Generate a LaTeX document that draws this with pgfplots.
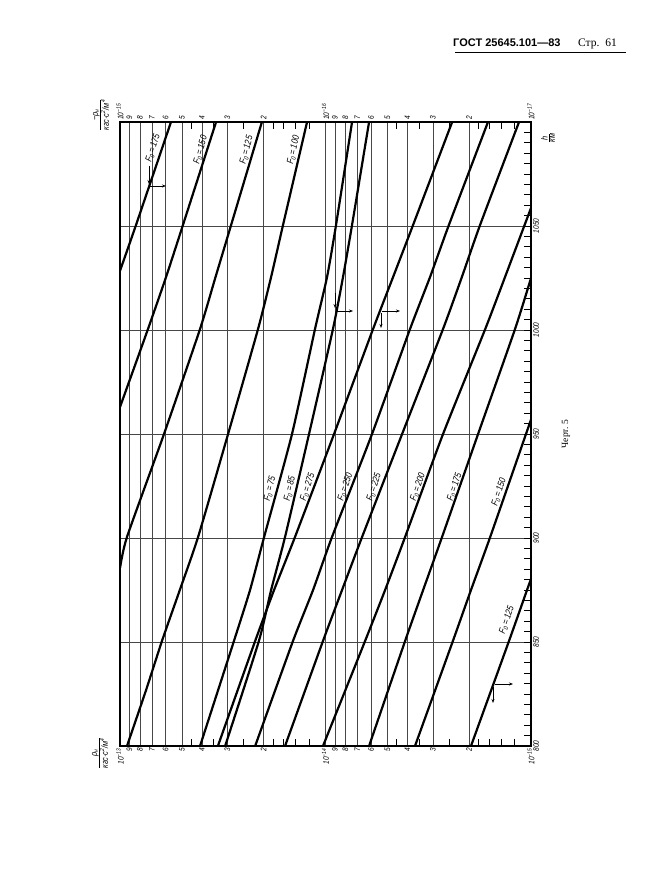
\documentclass[border=0pt]{standalone}
\usepackage{fontspec}
\setmainfont{Liberation Serif}
\newfontfamily\drafting[FakeStretch=0.82]{Liberation Sans}
\newfontfamily\headsans{Liberation Sans}
\usepackage{pgfplots}
\pgfplotsset{compat=1.18}
\usetikzlibrary{arrows.meta}
\newcommand\tf{\drafting\itshape\fontsize{8}{9}\selectfont}
\newcommand\lf{\drafting\itshape\fontsize{9.5}{10}\selectfont}
\newcommand\af{\drafting\itshape\fontsize{9}{10}\selectfont}
\pgfplotsset{fline/.style={black, line width=2.2pt, smooth, tension=0.35, no marks}}
\tikzset{flab/.style={font=\lf, inner sep=0.5pt}}
\begin{document}
\begin{tikzpicture}[x=1pt,y=1pt]
\path[use as bounding box, fill=white] (0,0) rectangle (651,894);
\begin{axis}[
  at={(120pt,148pt)}, anchor=south west, scale only axis,
  width=411pt, height=624pt,
  xmode=log, x dir=reverse, xmin=1e-15, xmax=1e-13, ymin=800, ymax=1100,
  axis line style={line width=1.3pt},
  grid=major, major grid style={line width=0.55pt, black!72},
  tick align=inside, major tick length=0pt, minor tick length=7pt,
  every tick/.style={black, line width=0.7pt},
  xtick={1e-13,9e-14,8e-14,7e-14,6e-14,5e-14,4e-14,3e-14,2e-14,1e-14,9e-15,8e-15,7e-15,6e-15,5e-15,4e-15,3e-15,2e-15,1e-15},
  xticklabels={10\textsuperscript{−13},9,8,7,6,5,4,3,2,10\textsuperscript{−14},9,8,7,6,5,4,3,2,10\textsuperscript{−15}},
  minor xtick={4.5e-14,3.5e-14,2.5e-14,1.8e-14,1.6e-14,1.4e-14,1.2e-14,4.5e-15,3.5e-15,2.5e-15,1.8e-15,1.6e-15,1.4e-15,1.2e-15},
  xtick pos=both, xticklabel pos=left,
  xticklabel style={rotate=90, anchor=east, font=\tf, inner sep=2pt},
  ytick={800,850,900,950,1000,1050},
  yticklabels={800,850,900,950,1000,1050},
  minor ytick={805,810,...,1095},
  ytick pos=right, yticklabel pos=right,
  yticklabel style={rotate=90, anchor=north, font=\tf, inner sep=2pt},
]
% F0=175 (upper left)
\addplot[fline] coordinates {(5.65e-14,1100) (8.36e-14,1050.5) (1.0e-13,1028.5)};
% F0=150
\addplot[fline] coordinates {(3.41e-14,1100) (4.94e-14,1050.5) (5.97e-14,1025.5) (7.31e-14,1000.5) (1.0e-13,963)};
% F0=125
\addplot[fline] coordinates {(2.04e-14,1100) (2.88e-14,1050.5) (3.43e-14,1025.5) (4.08e-14,1000.5) (6.11e-14,950) (9.25e-14,900.5) (1.0e-13,885.6)};
% F0=100
\addplot[fline] coordinates {(1.23e-14,1100) (1.61e-14,1050.5) (1.84e-14,1025.5) (2.13e-14,1000.5) (2.98e-14,950) (4.17e-14,900.5) (5.16e-14,874) (6.25e-14,850.5) (7.47e-14,826.9) (9.25e-14,800)};
% F0=75
\addplot[fline] coordinates {(7.43e-15,1100) (8.89e-15,1050.5) (9.83e-15,1025.5) (1.125e-14,1000.5) (1.456e-14,950) (1.99e-14,900.5) (2.33e-14,875) (2.79e-14,850.5) (4.08e-14,800)};
% F0=85
\addplot[fline] coordinates {(6.14e-15,1100) (7.43e-15,1050.5) (8.22e-15,1025.5) (9.20e-15,1000.5) (1.203e-14,950) (1.574e-14,900.5) (1.84e-14,875) (2.11e-14,850.5) (3.08e-14,800)};
% F0=275
\addplot[fline] coordinates {(2.42e-15,1100) (3.75e-15,1050.5) (4.69e-15,1025.5) (5.87e-15,1000.5) (9.09e-15,950) (1.408e-14,900.5) (1.78e-14,875) (2.20e-14,850.5) (3.34e-14,800)};
% F0=250
\addplot[fline] coordinates {(1.62e-15,1100) (2.51e-15,1050.5) (3.10e-15,1025.5) (3.88e-15,1000.5) (5.94e-15,950) (9.30e-15,900.5) (1.15e-14,875) (1.44e-14,850.5) (2.20e-14,800)};
% F0=225
\addplot[fline] coordinates {(1.144e-15,1100) (1.77e-15,1050.5) (2.17e-15,1025.5) (2.68e-15,1000.5) (4.24e-15,950) (6.64e-15,900.5) (8.31e-15,875) (1.029e-14,850.5) (1.574e-14,800)};
% F0=200
\addplot[fline] coordinates {(1.0e-15,1058.7) (1.338e-15,1025.5) (1.67e-15,1000.5) (2.68e-15,950) (4.10e-15,900.5) (5.13e-15,875) (6.42e-15,850.5) (1.029e-14,800)};
% F0=175 (lower)
\addplot[fline] coordinates {(1.0e-15,1025) (1.196e-15,1000.5) (1.81e-15,950) (2.71e-15,900.5) (3.35e-15,875) (4.10e-15,850.5) (6.14e-15,800)};
% F0=150 (lower)
\addplot[fline] coordinates {(1.0e-15,957) (1.058e-15,950) (1.58e-15,900.5) (1.96e-15,875) (2.40e-15,850.5) (3.67e-15,800)};
% F0=125 (lower)
\addplot[fline] coordinates {(1.0e-15,880.3) (1.046e-15,875) (1.28e-15,850.5) (1.96e-15,800)};

\node[flab, rotate=72] at (axis cs:6.9e-14,1087.5) {F\textsubscript{0}\,=\,175};
\node[flab, rotate=74] at (axis cs:4.05e-14,1086.5) {F\textsubscript{0}\,=\,150};
\node[flab, rotate=75] at (axis cs:2.42e-14,1086.5) {F\textsubscript{0}\,=\,125};
\node[flab, rotate=77] at (axis cs:1.43e-14,1086.5) {F\textsubscript{0}\,=\,100};
\node[flab, rotate=76] at (axis cs:1.86e-14,923.6) {F\textsubscript{0}\,=\,75};
\node[flab, rotate=77] at (axis cs:1.49e-14,923.6) {F\textsubscript{0}\,=\,85};
\node[flab, rotate=72] at (axis cs:1.22e-14,924.5) {F\textsubscript{0}\,=\,275};
\node[flab, rotate=71] at (axis cs:8.0e-15,924.5) {F\textsubscript{0}\,=\,250};
\node[flab, rotate=72] at (axis cs:5.8e-15,924.5) {F\textsubscript{0}\,=\,225};
\node[flab, rotate=71] at (axis cs:3.55e-15,924.5) {F\textsubscript{0}\,=\,200};
\node[flab, rotate=72] at (axis cs:2.35e-15,924.5) {F\textsubscript{0}\,=\,175};
\node[flab, rotate=72] at (axis cs:1.43e-15,922) {F\textsubscript{0}\,=\,150};
\node[flab, rotate=71] at (axis cs:1.31e-15,860.6) {F\textsubscript{0}\,=\,125};
\end{axis}
\begin{axis}[
  at={(120pt,148pt)}, anchor=south west, scale only axis,
  width=411pt, height=624pt,
  xmode=log, x dir=reverse, xmin=1e-15, xmax=1e-13, ymin=800, ymax=1100,
  axis line style={draw=none}, major tick length=0pt,
  xtick={1e-13,9e-14,8e-14,7e-14,6e-14,5e-14,4e-14,3e-14,2e-14,1e-14,9e-15,8e-15,7e-15,6e-15,5e-15,4e-15,3e-15,2e-15,1e-15},
  xticklabels={10\textsuperscript{−15},9,8,7,6,5,4,3,2,10\textsuperscript{−16},9,8,7,6,5,4,3,2,10\textsuperscript{−17}},
  xtick pos=right, xticklabel pos=right,
  xticklabel style={rotate=90, anchor=west, font=\tf, inner sep=2pt},
  ytick=\empty,
]
\end{axis}
% axis titles
\node[rotate=90] at (100,141) {$\frac{\mbox{\af ρ\textsubscript{н}}}{\mbox{\af кгс·с\textsuperscript{2}/м\textsuperscript{4}}}$};
\node[rotate=90] at (101,779) {$\frac{\mbox{\af −ρ\textsubscript{н}}}{\mbox{\af кгс·с\textsuperscript{2}/м\textsuperscript{4}}}$};
\node[rotate=90] at (548,756) {$\frac{\mbox{\af h}}{\mbox{\af км}}$};
% reading arrows
\draw[line width=0.8pt, -{Stealth[length=4pt,width=3pt]}] (150,708) -- (166,708);
\draw[line width=0.8pt, -{Stealth[length=4pt,width=3pt]}] (149,728) -- (149,710);
\draw[line width=0.8pt, -{Stealth[length=4pt,width=3pt]}] (337,583) -- (353,583);
\draw[line width=0.8pt, -{Stealth[length=4pt,width=3pt]}] (335,601) -- (335,586);
\draw[line width=0.8pt, -{Stealth[length=4pt,width=3pt]}] (382,583) -- (400,583);
\draw[line width=0.8pt, -{Stealth[length=4pt,width=3pt]}] (381,581) -- (381,566);
\draw[line width=0.8pt, -{Stealth[length=4pt,width=3pt]}] (495,210) -- (513,210);
\draw[line width=0.8pt, -{Stealth[length=4pt,width=3pt]}] (493,207) -- (493,191);
% header
\node[anchor=base west, inner sep=0] at (453,847) {\headsans\bfseries\fontsize{11}{12}\selectfont ГОСТ 25645.101—83};
\node[anchor=base west, inner sep=0] at (578,847) {\fontsize{11.5}{12}\selectfont Стр.\ \ 61};
\draw[line width=0.9pt] (455,842) -- (626,842);
\node[rotate=90] at (566,460) {\fontsize{9.5}{10}\selectfont Черт. 5};
\end{tikzpicture}
\end{document}
